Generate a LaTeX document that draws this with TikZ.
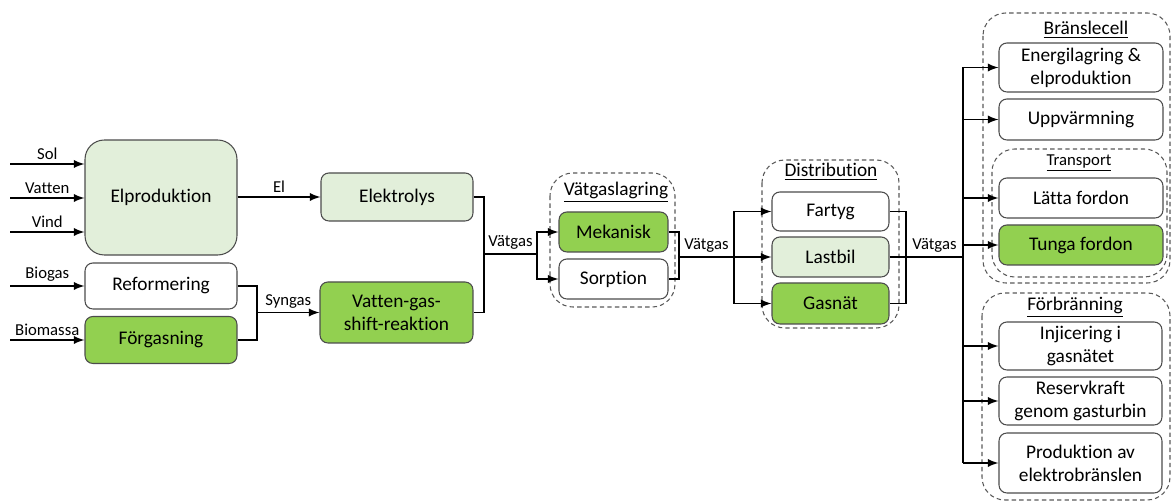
\documentclass[tikz,border=0pt]{standalone}
\usepackage{fontspec}
\setmainfont{Carlito}[Ligatures=NoCommon]
\usepackage{xcolor}
\usepackage{tikz}
\usetikzlibrary{arrows,calc}

\definecolor{paleGreen}{HTML}{E2EFDA}
\definecolor{leafGreen}{HTML}{92D050}

\tikzset{
	box/.style={draw=black!70, line width=0.6pt, rounded corners=4.5pt, inner sep=0pt, align=center, font=\fontsize{11}{13}\selectfont},
	lbl/.style={font=\fontsize{9.5}{11}\selectfont, inner sep=2pt},
	grp/.style={draw=black!65, dash pattern=on 2.5pt off 1.8pt, line width=0.6pt, rounded corners=13pt},
	grptitle/.style={font=\fontsize{11}{13}\selectfont, inner sep=0pt},
	conn/.style={line width=1.1pt},
	arr/.style={conn, -latex},
}

\begin{document}
\begin{tikzpicture}[x=0.02cm, y=-0.02cm]
	\useasboundingbox (0,0) rectangle (1171,502);
	% grupper
	\draw[grp] (550,173) rectangle (675,307);
	\draw[grp] (762,160) rectangle (899,328);
	\draw[grp] (983,13) rectangle (1170,283);
	\draw[grp] (992,149) rectangle (1167,277);
	\draw[grp] (982,293) rectangle (1170,500);
	\node[grptitle] (tlager) at (616,192) {\underline{Vätgaslagring}};
	\node[grptitle] (tdistr) at (831,172) {\underline{Distribution}};
	\node[grptitle] (tbransle) at (1086,30) {\underline{Bränslecell}};
	\node[grptitle, font=\fontsize{9.5}{11}\selectfont] (ttransp) at (1079,163) {\underline{Transport}};
	\node[grptitle] (tforbr) at (1075,307) {\underline{Förbränning}};
	%
	\node[box, fill=paleGreen, rounded corners=11pt, minimum width=3.04cm, minimum height=2.3cm] (elprod) at (161,197.5) {Elproduktion};
	\node[box, minimum width=3.04cm, minimum height=0.92cm] (reform) at (161,286) {Reformering};
	\node[box, fill=leafGreen, minimum width=3.04cm, minimum height=0.94cm] (forg) at (161,340) {Förgasning};
	\node[box, fill=paleGreen, minimum width=3.04cm, minimum height=0.96cm] (elektro) at (397,197) {Elektrolys};
	\node[box, fill=leafGreen, minimum width=3.06cm, minimum height=1.22cm] (vgs) at (396.5,312.5) {Vatten-gas-\\shift-reaktion};
	\node[box, fill=leafGreen, minimum width=2.18cm, minimum height=0.8cm] (mek) at (613.5,232) {Mekanisk};
	\node[box, minimum width=2.18cm, minimum height=0.8cm] (sorp) at (613.5,279) {Sorption};
	\node[box, minimum width=2.34cm, minimum height=0.78cm] (fartyg) at (830.5,211.5) {Fartyg};
	\node[box, fill=paleGreen, minimum width=2.34cm, minimum height=0.8cm] (lastbil) at (830.5,257) {Lastbil};
	\node[box, fill=leafGreen, minimum width=2.34cm, minimum height=0.82cm] (gasnat) at (830.5,303.5) {Gasnät};
	\node[box, minimum width=3.28cm, minimum height=0.98cm] (energi) at (1081,67.5) {Energilagring \&\\elproduktion};
	\node[box, minimum width=3.28cm, minimum height=0.82cm] (uppv) at (1081,119.5) {Uppvärmning};
	\node[box, minimum width=3.28cm, minimum height=0.8cm] (latta) at (1081,198) {Lätta fordon};
	\node[box, fill=leafGreen, minimum width=3.28cm, minimum height=0.8cm] (tunga) at (1081,245) {Tunga fordon};
	\node[box, minimum width=3.26cm, minimum height=0.96cm] (injic) at (1080.5,346) {Injicering i\\gasnätet};
	\node[box, minimum width=3.26cm, minimum height=0.96cm] (reserv) at (1080.5,401) {Reservkraft\\genom gasturbin};
	\node[box, minimum width=3.26cm, minimum height=1.2cm] (prodel) at (1080.5,463) {Produktion av\\elektrobränslen};
	%
	\coordinate (insol) at (10,164);
	\coordinate (invatten) at (10,198);
	\coordinate (invind) at (10,232);
	\coordinate (inbiogas) at (10,286);
	\coordinate (inbiomassa) at (10,340);
	\draw[arr] (insol) -- node[lbl, above] (lsol) {Sol} (insol -| elprod.west);
	\draw[arr] (invatten) -- node[lbl, above] (lvatten) {Vatten} (invatten -| elprod.west);
	\draw[arr] (invind) -- node[lbl, above] (lvind) {Vind} (invind -| elprod.west);
	\draw[arr] (inbiogas) -- node[lbl, above] (lbiogas) {Biogas} (reform.west);
	\draw[arr] (inbiomassa) -- node[lbl, above] (lbiomassa) {Biomassa} (forg.west);
	%
	\draw[arr] (elprod.east |- elektro.west) -- node[lbl, above] (lel) {El} (elektro.west);
	\coordinate (jsyn) at (257,312.5);
	\draw[conn] (reform.east) -| (jsyn) |- (forg.east);
	\draw[arr] (jsyn) -- node[lbl, above] (lsyn) {Syngas} (vgs.west);
	%
	\coordinate (jv1) at (484,254);
	\coordinate (sv1) at (537,254);
	\draw[conn] (elektro.east) -| (jv1) |- (vgs.east);
	\draw[conn] (jv1) -- node[lbl, above] (lv1) {Vätgas} (sv1);
	\draw[arr] (sv1) |- (mek.west);
	\draw[arr] (sv1) |- (sorp.west);
	%
	\coordinate (jv2) at (679,257);
	\coordinate (sv2) at (734,257);
	\draw[conn] (mek.east) -| (jv2) |- (sorp.east);
	\draw[conn] (jv2) -- node[lbl, above] (lv2) {Vätgas} (sv2);
	\draw[arr] (sv2) |- (fartyg.west);
	\draw[arr] (sv2) -- (lastbil.west);
	\draw[arr] (sv2) |- (gasnat.west);
	%
	\coordinate (jv3) at (906,257);
	\coordinate (bus) at (963,257);
	\draw[conn] (fartyg.east) -| (jv3) |- (gasnat.east);
	\draw[conn] (lastbil.east) -- (jv3) -- node[lbl, above] (lv3) {Vätgas} (bus);
	\draw[conn] (bus |- energi.west) -- (bus |- prodel.west);
	\draw[arr] (bus |- energi.west) -- (energi.west);
	\draw[arr] (bus |- uppv.west) -- (uppv.west);
	\draw[arr] (bus |- latta.west) -- (latta.west);
	\draw[arr] (bus |- tunga.west) -- (tunga.west);
	\draw[arr] (bus |- injic.west) -- (injic.west);
	\draw[arr] (bus |- reserv.west) -- (reserv.west);
	\draw[arr] (bus |- prodel.west) -- (prodel.west);
\end{tikzpicture}
\end{document}
